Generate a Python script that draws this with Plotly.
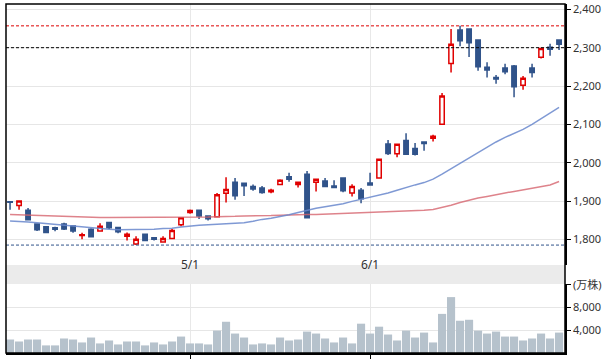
import plotly.graph_objects as go

# ---- data ----
dates = ["4/3", "4/4", "4/5", "4/6", "4/7", "4/10", "4/11", "4/12", "4/13", "4/14",
         "4/17", "4/18", "4/19", "4/20", "4/21", "4/24", "4/25", "4/26", "4/27", "4/28",
         "5/1", "5/2", "5/8", "5/9", "5/10", "5/11", "5/12", "5/15", "5/16", "5/17",
         "5/18", "5/19", "5/22", "5/23", "5/24", "5/25", "5/26", "5/29", "5/30", "5/31",
         "6/1", "6/2", "6/5", "6/6", "6/7", "6/8", "6/9", "6/12", "6/13", "6/14",
         "6/15", "6/16", "6/19", "6/20", "6/21", "6/22", "6/23", "6/26", "6/27", "6/28",
         "6/29", "6/30"]

open_ = [1898, 1888, 1876, 1840, 1833, 1830, 1840, 1835, 1810, 1826,
         1822, 1844, 1831, 1808, 1788, 1813, 1804, 1793, 1802, 1838,
         1870, 1876, 1861, 1859, 1920, 1949, 1946, 1938, 1934, 1924,
         1943, 1963, 1943, 1970, 1949, 1952, 1939, 1960, 1921, 1928,
         1947, 1960, 2049, 2023, 2058, 2037, 2054, 2064, 2100, 2259,
         2346, 2349, 2320, 2249, 2222, 2247, 2252, 2202, 2247, 2275,
         2301, 2320]
high = [1898, 1900, 1882, 1841, 1834, 1833, 1843, 1836, 1817, 1829,
        1842, 1845, 1833, 1818, 1808, 1815, 1806, 1808, 1827, 1857,
        1878, 1877, 1862, 1921, 1962, 1960, 1948, 1943, 1939, 1932,
        1957, 1974, 1950, 1978, 1958, 1960, 1954, 1961, 1944, 1934,
        1974, 2009, 2059, 2049, 2077, 2051, 2056, 2073, 2182, 2349,
        2357, 2350, 2322, 2262, 2229, 2258, 2255, 2226, 2258, 2298,
        2310, 2322]
low = [1877, 1877, 1851, 1822, 1817, 1821, 1824, 1817, 1800, 1807,
       1822, 1827, 1816, 1797, 1785, 1796, 1797, 1792, 1800, 1834,
       1867, 1853, 1849, 1857, 1896, 1903, 1913, 1927, 1919, 1920,
       1943, 1950, 1935, 1856, 1925, 1937, 1933, 1923, 1912, 1894,
       1940, 1959, 2020, 2014, 2021, 2019, 2031, 2055, 2100, 2235,
       2304, 2276, 2240, 2222, 2206, 2231, 2171, 2190, 2222, 2272,
       2279, 2294]
close = [1897, 1900, 1851, 1825, 1818, 1826, 1827, 1822, 1812, 1807,
         1834, 1830, 1820, 1813, 1800, 1797, 1800, 1802, 1823, 1856,
         1875, 1861, 1854, 1916, 1930, 1914, 1940, 1931, 1922, 1928,
         1954, 1957, 1949, 1856, 1957, 1938, 1935, 1927, 1938, 1906,
         1942, 2009, 2024, 2048, 2022, 2022, 2050, 2069, 2174, 2309,
         2318, 2313, 2250, 2242, 2218, 2237, 2198, 2220, 2235, 2298,
         2296, 2309]

ma_short = [1848, 1847, 1845, 1843, 1841, 1839, 1837, 1835, 1832, 1830,
            1827, 1826, 1825, 1825, 1825, 1826, 1826, 1828, 1829, 1832,
            1835, 1837, 1838, 1839, 1840, 1841, 1843, 1847, 1852, 1855,
            1859, 1864, 1870, 1876, 1881, 1885, 1889, 1893, 1899, 1904,
            1909, 1915, 1921, 1928, 1936, 1942, 1948, 1957, 1970, 1984,
            1998, 2013, 2028, 2042, 2054, 2066, 2076, 2087, 2100, 2114,
            2129, 2144]
ma_long = [1865, 1864, 1863, 1862, 1861, 1860, 1859, 1858, 1858, 1857,
           1857, 1857, 1857, 1857, 1857, 1857, 1857, 1857, 1857, 1857,
           1857, 1858, 1858, 1859, 1859, 1860, 1861, 1861, 1862, 1862,
           1863, 1864, 1864, 1865, 1865, 1866, 1866, 1867, 1868, 1868,
           1869, 1870, 1871, 1872, 1873, 1874, 1876, 1878, 1883, 1889,
           1896, 1903, 1908, 1912, 1917, 1921, 1925, 1929, 1933, 1937,
           1942, 1951]

volume = [2380, 2030, 2380, 2380, 1340, 1340, 2560, 2380, 1860, 2730,
          1690, 2210, 1510, 2030, 2030, 1340, 1860, 1510, 2030, 2900,
          1690, 1690, 1510, 3950, 5510, 3430, 2730, 1510, 1690, 1510,
          2730, 2210, 2380, 3780, 3430, 2560, 1860, 2730, 1690, 5170,
          3430, 4640, 3260, 2210, 3950, 2730, 3600, 1860, 6900, 9860,
          5690, 5860, 3950, 3430, 3780, 2900, 2900, 2210, 2560, 3430,
          2560, 3600]

price_ticks = [1800, 1900, 2000, 2100, 2200, 2300, 2400]
vol_ticks = [4000, 8000, 12000]
vol_ticktext = ["4,000", "8,000", "(万株)"]
month_ticks = ["5/1", "6/1"]
ref_level = 2300

# ---- styling ----
RED = "#e00000"
NAVY = "#30538a"
FONT = "Noto Sans, Noto Sans CJK JP, sans-serif"

fig = go.Figure()

fig.add_trace(go.Scatter(x=dates, y=ma_long, mode="lines",
                         line=dict(color="rgba(214,100,110,0.8)", width=1.5),
                         xaxis="x", yaxis="y", hoverinfo="skip"))
fig.add_trace(go.Scatter(x=dates, y=ma_short, mode="lines",
                         line=dict(color="rgba(105,135,205,0.85)", width=1.5),
                         xaxis="x", yaxis="y", hoverinfo="skip"))
fig.add_trace(go.Candlestick(
    x=dates, open=open_, high=high, low=low, close=close,
    increasing=dict(line=dict(color=RED, width=1.5), fillcolor="white"),
    decreasing=dict(line=dict(color=NAVY, width=1.5), fillcolor=NAVY),
    whiskerwidth=0, xaxis="x", yaxis="y"))
fig.add_trace(go.Bar(x=dates, y=volume, marker=dict(color="#b6c2cc", line=dict(width=0)),
                     xaxis="x2", yaxis="y2"))

H_PLOT = 359 - 4 - 6
price_bottom = (353 - 265) / H_PLOT
vol_top = (353 - 284) / H_PLOT

shapes = [
    dict(type="rect", xref="paper", yref="paper", x0=0, x1=1, y0=vol_top, y1=price_bottom,
         fillcolor="#ebebeb", line=dict(width=0), layer="below"),
    dict(type="line", xref="paper", yref="y", x0=0, x1=1, y0=max(high), y1=max(high),
         line=dict(color="#dd0000", width=1, dash="3px,2px")),
    dict(type="line", xref="paper", yref="y", x0=0, x1=1, y0=ref_level, y1=ref_level,
         line=dict(color="#000000", width=1, dash="3px,2px")),
    dict(type="line", xref="paper", yref="y", x0=0, x1=1, y0=min(low), y1=min(low),
         line=dict(color=NAVY, width=1, dash="3px,2px")),
    dict(type="rect", xref="paper", yref="paper", x0=0, x1=1, y0=0, y1=1,
         line=dict(color="black", width=1.5)),
]

annotations = [dict(x=m, xref="x", y=(vol_top + price_bottom) / 2, yref="paper",
                    text=m, showarrow=False, font=dict(size=12, color="#333", family=FONT))
               for m in month_ticks]

xr = [-0.45, len(dates) - 1 + 0.66]
fig.update_layout(
    width=605, height=359,
    margin=dict(l=6, r=40, t=4, b=6, autoexpand=False),
    paper_bgcolor="white", plot_bgcolor="white",
    showlegend=False,
    bargap=0.1,
    font=dict(family=FONT, size=11, color="#333"),
    shapes=shapes, annotations=annotations,
    xaxis=dict(type="category", domain=[0, 1], anchor="y", range=xr,
               rangeslider=dict(visible=False), tickvals=month_ticks,
               showticklabels=False, ticks="", showgrid=True, gridcolor="#e8e8e8",
               gridwidth=1, zeroline=False, showline=False),
    xaxis2=dict(type="category", domain=[0, 1], anchor="y2", range=xr, matches="x",
                tickvals=month_ticks, showticklabels=False, ticks="outside", ticklen=5,
                tickcolor="black", showgrid=True, gridcolor="#e8e8e8", zeroline=False,
                showline=True, linecolor="black", linewidth=1.5),
    yaxis=dict(domain=[price_bottom, 1], anchor="x", side="right", range=[1733, 2414],
               tickvals=price_ticks, tickformat=",", ticks="outside", ticklen=4,
               tickcolor="black", showline=True, linecolor="black", linewidth=1.5,
               showgrid=True, gridcolor="#e6e6e6", zeroline=False,
               tickfont=dict(size=11, color="#333")),
    yaxis2=dict(domain=[0, vol_top], anchor="x2", side="right", range=[0, 12170],
                tickvals=vol_ticks, ticktext=vol_ticktext, ticks="outside", ticklen=4,
                tickcolor="black", showline=True, linecolor="black", linewidth=1.5,
                showgrid=True, gridcolor="#e6e6e6", zeroline=False,
                tickfont=dict(size=11, color="#333")),
)

fig.write_html("out.html", config={"displayModeBar": False},
               post_script="document.body.style.margin='0';")
